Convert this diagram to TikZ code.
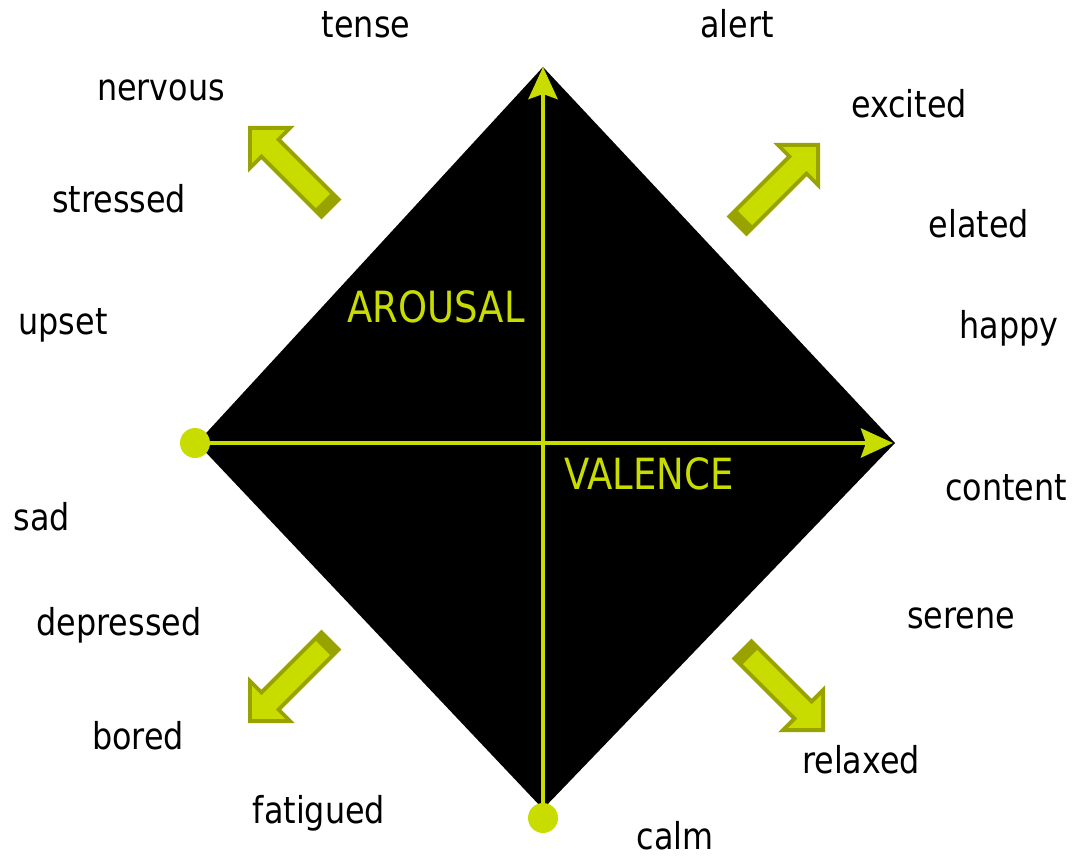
\documentclass[tikz,border=0pt]{standalone}
\usepackage{fontspec}
\newfontfamily\moodfont{DejaVu Sans}[FakeStretch=0.86]
\usetikzlibrary{arrows.meta}
\definecolor{moodlime}{RGB}{200,220,0}
\definecolor{moodolive}{RGB}{153,163,0}

\begin{document}
\begin{tikzpicture}[x=1pt,y=-1pt,
  word/.style={font=\moodfont\fontsize{37}{40}\selectfont, anchor=base, inner sep=0pt},
  axislabel/.style={font=\moodfont\fontsize{43}{46}\selectfont, text=moodlime, anchor=base, inner sep=0pt},
  dot/.style={circle, fill=moodlime, minimum size=30pt, inner sep=0pt},
  axis/.style={moodlime, line width=4.5pt, -{Stealth[length=32pt,width=29pt,inset=5pt]}}]
\useasboundingbox (0,0) rectangle (1074,856);

% the diamond
\coordinate (top) at (543,67);
\coordinate (right) at (895,443);
\coordinate (bottom) at (543,809);
\coordinate (left) at (197,443);
\fill[black] (top) -- (right) -- (bottom) -- (left) -- cycle;

% axes
\node[dot] (vstart) at (543,818) {};
\node[dot] (hstart) at (195,443) {};
\coordinate (vend) at (543,67);
\coordinate (hend) at (893,443);
\draw[axis] (vstart.center) -- (vend);
\draw[axis] (hstart.center) -- (hend);
\node[axislabel] (arousal) at (436,322) {AROUSAL};
\node[axislabel] (valence) at (649,489) {VALENCE};

% block arrows
\foreach \tx/\ty/\ang in {248/126/135, 820/143/45, 248/723/225, 825/732/-45}{
  \begin{scope}[shift={(\tx,\ty)}, rotate=\ang]
    \fill[moodolive] (0,0) -- (-33,33) -- (-33,14) -- (-118,14) -- (-118,-14) -- (-33,-14) -- (-33,-33) -- cycle;
    \fill[moodlime] (-5.7,0) -- (-29,23.3) -- (-29,10) -- (-106,10) -- (-106,-10) -- (-29,-10) -- (-29,-23.3) -- cycle;
  \end{scope}
}

% moods
\node[word] (tense) at (366,38) {tense};
\node[word] (alert) at (737,38) {alert};
\node[word] (nervous) at (161,101) {nervous};
\node[word] (excited) at (909,118) {excited};
\node[word] (stressed) at (119,212) {stressed};
\node[word] (elated) at (979,237) {elated};
\node[word] (upset) at (63,334) {upset};
\node[word] (happy) at (1009,338) {happy};
\node[word] (sad) at (42,530) {sad};
\node[word] (content) at (1006,500) {content};
\node[word] (depressed) at (119,635) {depressed};
\node[word] (serene) at (961,628) {serene};
\node[word] (bored) at (138,749) {bored};
\node[word] (relaxed) at (861,773) {relaxed};
\node[word] (fatigued) at (319,823) {fatigued};
\node[word] (calm) at (675,849) {calm};
\end{tikzpicture}
\end{document}
